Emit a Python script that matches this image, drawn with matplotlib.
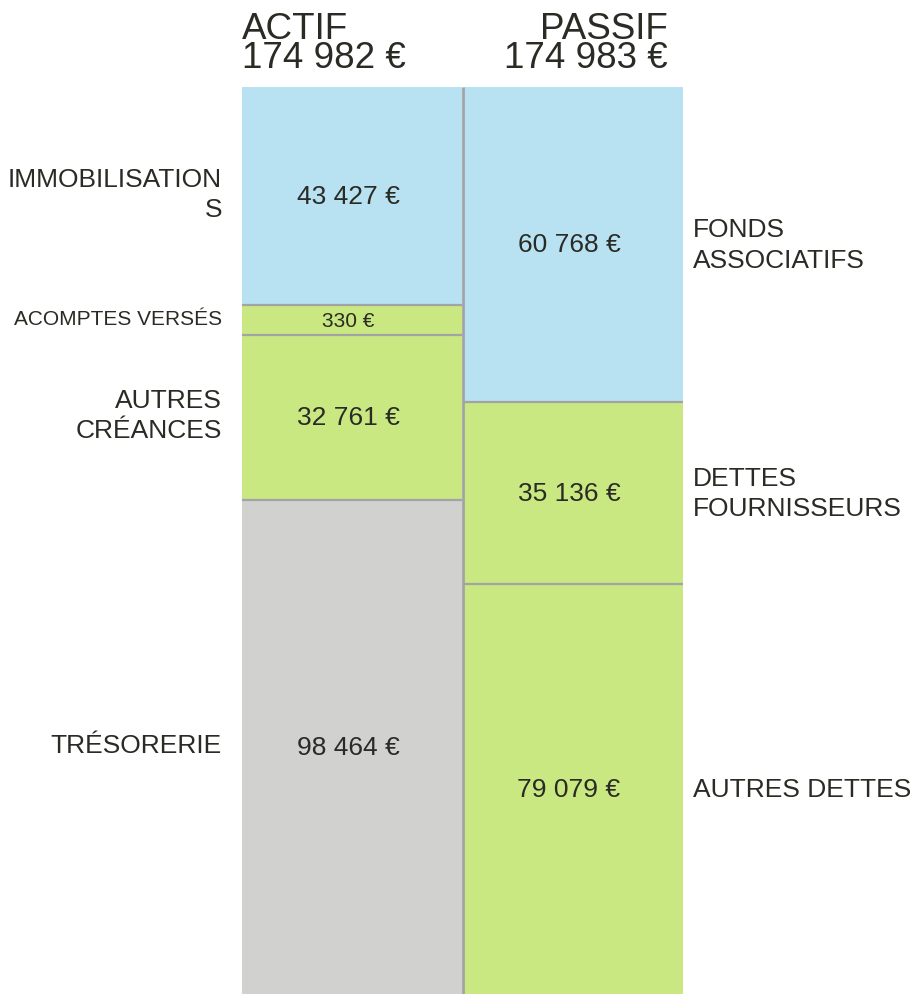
import matplotlib

matplotlib.use("Agg")
import matplotlib.pyplot as plt

plt.rcParams["font.family"] = ["Liberation Sans", "DejaVu Sans"]

# --- data -------------------------------------------------------------
actif_labels = ["IMMOBILISATION\nS", "ACOMPTES VERSÉS", "AUTRES\nCRÉANCES", "TRÉSORERIE"]
actif_values = [43427, 330, 32761, 98464]

passif_labels = ["FONDS\nASSOCIATIFS", "DETTES\nFOURNISSEURS", "AUTRES DETTES"]
passif_values = [60768, 35136, 79079]

# --- style ------------------------------------------------------------
BLUE = "#b8e2f2"
GREEN = "#c9e882"
GREY = "#d1d1d0"
SEP = "#a3a3a6"
TEXT = "#2b2b25"

actif_colors = [BLUE, GREEN, GREEN, GREY]
passif_colors = [BLUE, GREEN, GREEN]
actif_small = [False, True, False, False]
passif_small = [False, False, False]

W, H = 914, 995
TOP, BOTTOM = 88, 995
COL_W = 220
ACTIF_X = 242
PASSIF_X = 463
MIN_PX = 30
FS, FS_SMALL = 19, 15


def euro(v):
    return f"{v:,}".replace(",", " ") + " €"


def seg_heights(values, total_px, min_px):
    """Proportional heights, with tiny segments bumped up to min_px."""
    fixed = [False] * len(values)
    while True:
        free_px = total_px - min_px * sum(fixed)
        free_sum = sum(v for v, f in zip(values, fixed) if not f)
        hs = [min_px if f else v / free_sum * free_px for v, f in zip(values, fixed)]
        new = [f or h < min_px for f, h in zip(fixed, hs)]
        if new == fixed:
            return hs
        fixed = new


def draw_column(ax, x0, values, labels, colors, small, side):
    hs = seg_heights(values, BOTTOM - TOP, MIN_PX)
    bottoms = [TOP + sum(hs[:i]) for i in range(len(hs))]
    ax.bar(x0, hs, bottom=bottoms, width=COL_W, align="edge",
           color=colors, linewidth=0, zorder=1)
    xc = x0 + COL_W / 2 - 4
    for b, h, v, lab, sm in zip(bottoms, hs, values, labels, small):
        yc = b + h / 2
        fs = FS_SMALL if sm else FS
        ax.text(xc, yc, euro(v), ha="center", va="center", color=TEXT,
                fontsize=fs, zorder=3)
        if side == "left":
            ax.text(222, yc - 2, lab, ha="right", va="center", color=TEXT,
                    fontsize=fs, linespacing=1.32, zorder=3)
        else:
            ax.text(693, yc, lab, ha="left", va="center", color=TEXT,
                    fontsize=fs, linespacing=1.32, zorder=3)
    # separators between segments
    for b in bottoms[1:]:
        ax.hlines(b, x0, x0 + COL_W, color=SEP, lw=1.6, zorder=2)


fig = plt.figure(figsize=(W / 100, H / 100), dpi=100)
ax = fig.add_axes([0, 0, 1, 1])
ax.set_xlim(0, W)
ax.set_ylim(H, 0)
ax.axis("off")

draw_column(ax, ACTIF_X, actif_values, actif_labels, actif_colors, actif_small, "left")
draw_column(ax, PASSIF_X, passif_values, passif_labels, passif_colors, passif_small, "right")

ax.vlines(462.5, TOP, BOTTOM, color=SEP, lw=2.0, zorder=2)

# headers (one text each so the two lines share a box; baseline = last line)
ax.text(ACTIF_X, 68, "ACTIF\n" + euro(sum(actif_values)), ha="left",
        va="baseline", color=TEXT, fontsize=26.5, linespacing=0.76)
ax.text(668, 68, "PASSIF\n" + euro(sum(passif_values)), ha="right",
        va="baseline", color=TEXT, fontsize=26.5, linespacing=0.76,
        multialignment="right")

fig.savefig("out.png", dpi=100, facecolor="white")
plt.close(fig)
